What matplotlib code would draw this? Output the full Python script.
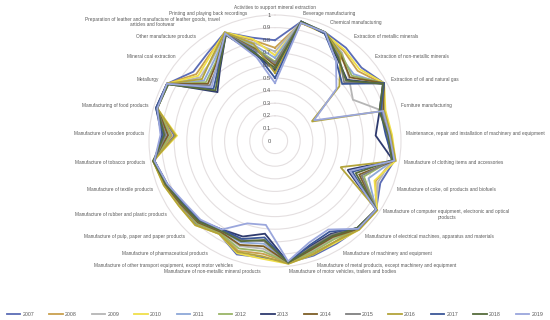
import matplotlib
matplotlib.use('Agg')
import matplotlib.pyplot as plt
import numpy as np

plt.rcParams['font.family'] = ['Liberation Sans', 'DejaVu Sans']

categories = [
    'Activities to support mineral extraction',
    'Beverage manufacturing',
    'Chemical manufacturing',
    'Extraction of metallic minerals',
    'Extraction of non-metallic minerals',
    'Extraction of oil and natural gas',
    'Furniture manufacturing',
    'Maintenance, repair and installation of machinery and equipment',
    'Manufacture of clothing items and accessories',
    'Manufacture of coke, oil products and biofuels',
    'Manufacture of computer equipment, electronic and optical\nproducts',
    'Manufacture of electrical machines, apparatus and materials',
    'Manufacture of machinery and equipment',
    'Manufacture of metal products, except machinery and equipment',
    'Manufacture of motor vehicles, trailers and bodies',
    'Manufacture of non-metallic mineral products',
    'Manufacture of other transport equipment, except motor vehicles',
    'Manufacture of pharmaceutical products',
    'Manufacture of pulp, paper and paper products',
    'Manufacture of rubber and plastic products',
    'Manufacture of textile products',
    'Manufacture of tobacco products',
    'Manufacture of wooden products',
    'Manufacturing of food products',
    'Metallurgy',
    'Mineral coal extraction',
    'Other manufacture products',
    'Preparation of leather and manufacture of leather goods, travel\narticles and footwear',
    'Printing and playing back recordings',
]

years = ['2007', '2008', '2009', '2010', '2011', '2012', '2013',
         '2014', '2015', '2016', '2017', '2018', '2019']

y2007 = [.80, .97, .95, .93, .90, .98, .90, .92, .96, .90, .97, .96, .95, .96, .97,
         .93, .95, .86, .91, .91, .94, .98, .80, .97, .97, .85, .88, .95, .84]
y2008 = [.74, .96, .94, .90, .86, .97, .88, .91, .95, .86, .97, .95, .93, .94, .97,
         .90, .92, .85, .90, .90, .94, .97, .82, .97, .97, .82, .86, .94, .82]
y2009 = [.71, .97, .95, .88, .77, .70, .89, .90, .94, .88, .97, .96, .90, .92, .97,
         .86, .88, .84, .89, .89, .93, .98, .84, .98, .96, .78, .82, .94, .80]
y2010 = [.68, .96, .94, .91, .88, .98, .91, .93, .97, .85, .98, .97, .94, .95, .98,
         .94, .94, .86, .92, .92, .95, .98, .78, .97, .97, .80, .85, .95, .83]
y2011 = [.66, .97, .95, .85, .82, .97, .88, .90, .95, .80, .97, .95, .88, .90, .97,
         .82, .85, .83, .88, .89, .93, .97, .86, .97, .97, .74, .80, .93, .78]
y2012 = [.63, .96, .95, .87, .80, .98, .87, .91, .94, .76, .97, .96, .91, .93, .97,
         .88, .90, .85, .90, .90, .94, .98, .83, .97, .96, .72, .78, .94, .76]
y2013 = [.56, .97, .94, .82, .75, .97, .86, .80, .95, .62, .97, .95, .86, .88, .97,
         .74, .80, .82, .87, .88, .92, .97, .90, .98, .97, .60, .72, .93, .70]
y2014 = [.60, .96, .95, .86, .78, .98, .89, .90, .96, .72, .97, .96, .89, .91, .97,
         .84, .87, .84, .89, .90, .94, .98, .85, .97, .97, .70, .77, .94, .75]
y2015 = [.62, .97, .94, .84, .72, .97, .88, .89, .94, .74, .97, .95, .87, .89, .97,
         .80, .83, .83, .88, .89, .93, .97, .87, .97, .96, .68, .75, .94, .74]
y2016 = [.54, .96, .95, .86, .67, .33, .90, .92, .97, .56, .98, .97, .93, .95, .98,
         .92, .93, .86, .92, .92, .95, .98, .79, .97, .97, .76, .83, .95, .79]
y2017 = [.50, .97, .94, .80, .70, .98, .87, .88, .95, .66, .97, .96, .84, .87, .97,
         .77, .82, .82, .87, .88, .93, .97, .89, .98, .97, .64, .74, .93, .72]
y2018 = [.58, .97, .95, .83, .74, .97, .86, .90, .94, .69, .97, .95, .88, .90, .97,
         .79, .84, .83, .88, .89, .93, .98, .88, .97, .96, .62, .73, .93, .71]
y2019 = [.46, .96, .95, .80, .64, .35, .89, .91, .96, .64, .97, .96, .82, .85, .96,
         .67, .69, .82, .86, .87, .92, .97, .91, .97, .97, .66, .76, .94, .68]

series = [y2007, y2008, y2009, y2010, y2011, y2012, y2013,
          y2014, y2015, y2016, y2017, y2018, y2019]

colors = ['#5b6cb5', '#c9a04e', '#b5b5b5', '#f0df4a', '#8ea8d8', '#9ab567', '#2e3a6e',
          '#7d5e26', '#7f7f7f', '#b3a43a', '#3b5797', '#566c3c', '#9aa6dc']

grid_color = '#e4dfe0'
text_color = '#595959'

fig = plt.figure(figsize=(5.5, 3.2), dpi=100)
ax = fig.add_axes([0.2709, 0.1656, 0.4582, 0.7875], projection='polar')
ax.set_theta_zero_location('N')
ax.set_theta_direction(-1)

n = len(categories)
angles = np.linspace(0, 2 * np.pi, n, endpoint=False)
closed = np.append(angles, angles[0])

for vals, year, col in zip(series, years, colors):
    ax.plot(closed, vals + vals[:1], color=col, lw=1.3, label=year,
            solid_joinstyle='miter')

ax.set_ylim(0, 1)
ax.set_yticks(np.arange(0.1, 1.0, 0.1))
ax.set_yticklabels([])
ax.set_xticks([])
ax.grid(True, color=grid_color, lw=0.8)
ax.xaxis.grid(False)
ax.spines['polar'].set_color(grid_color)
ax.spines['polar'].set_linewidth(0.8)
ax.set_facecolor('none')

# radial tick labels drawn beside the vertical axis
for v in np.arange(0, 1.01, 0.1):
    lab = '0' if v == 0 else ('1' if abs(v - 1) < 1e-9 else f'{v:.1f}')
    ax.annotate(lab, (0, v), xytext=(-3, 0), textcoords='offset points',
                ha='right', va='center', fontsize=4.2, color=text_color)

for ang, cat in zip(angles, categories):
    deg = np.degrees(ang)
    if deg < 1:
        ha, r = 'center', 1.06
    elif deg < 180:
        ha, r = 'left', 1.04
    else:
        ha, r = 'right', 1.04
    ax.text(ang, r, cat, ha=ha, va='center', fontsize=3.4, color=text_color,
            multialignment='center')

fig.legend(loc='lower center', bbox_to_anchor=(0.5, -0.005), ncol=13, frameon=False,
           fontsize=3.8, handlelength=2.6, handletextpad=0.4, columnspacing=2.8,
           labelcolor=text_color)

fig.savefig('out.png', dpi=100)
